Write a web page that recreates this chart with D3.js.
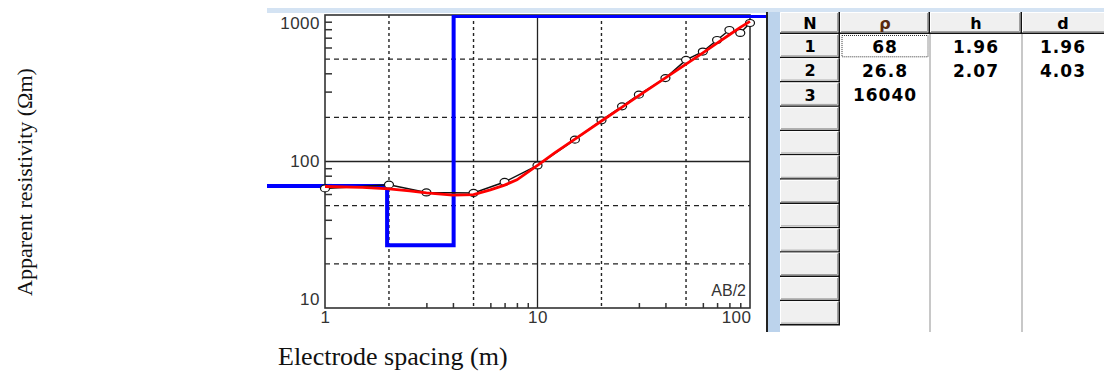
<!DOCTYPE html>
<html>
<head>
<meta charset="utf-8">
<script src="https://cdn.jsdelivr.net/npm/d3@7"></script>
<style>
  body { margin: 0; background: #fff; }
  svg { display: block; }
</style>
</head>
<body>
<script>
// sounding data (AB/2 in m, apparent resistivity in ohm-m)
const spacing = [1, 2, 3, 5, 7, 10, 15, 20, 25, 30, 40, 50, 60, 70, 80, 90, 100];
const observed = [65.5, 69.5, 61.5, 61, 72.5, 94, 141, 191, 238, 286, 371, 494, 563, 675, 790, 754, 882];

// calculated curve of the fitted model
const fitSpacing = [1, 1.5, 2, 2.5, 3, 4, 5, 6, 7, 8, 10, 12, 15, 20, 25, 30, 40, 50, 60, 70, 80, 90, 100];
const fitRho = [67.5, 66.5, 65, 63, 61, 59, 59.5, 64, 69, 75, 94, 114, 142, 189, 235, 282, 372, 462, 552, 642, 733, 823, 905];

// layered model
const layerN = ["1", "2", "3"];
const layerRho = [68, 26.8, 16040];
const layerH = [1.96, 2.07];
const layerD = [1.96, 4.03];
const rhoLabels = ["68", "26.8", "16040"];
const hLabels = ["1.96", "2.07"];
const dLabels = ["1.96", "4.03"];

// tick values
const yMajor = [10, 100, 1000];
const yMinor = [30, 40, 60, 70, 80, 90, 300, 400, 600, 700, 800, 900];
const yDashed = [20, 50, 200, 500];
const xMajor = [1, 10, 100];
const xMinor = [3, 4, 6, 7, 8, 9, 30, 40, 60, 70, 80, 90];
const xDotted = [2, 5, 20, 50];

const width = 1104;
const height = 381;

const svg = d3.select("body").append("svg")
  .attr("width", width)
  .attr("height", height);

const x = d3.scaleLog().domain([1, 100]).range([325, 750]);
const y = d3.scaleLog().domain([10, 1000]).range([308, 15]);

const panelLeft = 267;
const panelRight = 766;
const tickFont = "Liberation Sans, Arial, sans-serif";

// light blue band at top of the window
svg.append("rect")
  .attr("x", panelLeft).attr("y", 8)
  .attr("width", width - panelLeft).attr("height", 5)
  .attr("fill", "#d4e3f3");

svg.append("clipPath").attr("id", "panel")
  .append("rect")
  .attr("x", panelLeft).attr("y", y(1000))
  .attr("width", panelRight - panelLeft).attr("height", y(10) - y(1000) + 24);

// grid
const grid = svg.append("g");
grid.selectAll(".vd")
  .data(xDotted)
  .join("line")
  .attr("x1", (d) => x(d)).attr("x2", (d) => x(d))
  .attr("y1", y(1000)).attr("y2", y(10))
  .attr("stroke", "#222").attr("stroke-width", 1.4)
  .attr("stroke-dasharray", "3,3");
grid.selectAll(".hd")
  .data(yDashed)
  .join("line")
  .attr("x1", x(1)).attr("x2", x(100))
  .attr("y1", (d) => y(d)).attr("y2", (d) => y(d))
  .attr("stroke", "#222").attr("stroke-width", 1.3)
  .attr("stroke-dasharray", "5,4");
grid.append("line")
  .attr("x1", x(10)).attr("x2", x(10))
  .attr("y1", y(1000)).attr("y2", y(10))
  .attr("stroke", "#222").attr("stroke-width", 1.3);
grid.append("line")
  .attr("x1", x(1)).attr("x2", x(100))
  .attr("y1", y(100)).attr("y2", y(100))
  .attr("stroke", "#222").attr("stroke-width", 1.3);

// frame
svg.append("rect")
  .attr("x", x(1)).attr("y", y(1000))
  .attr("width", x(100) - x(1)).attr("height", y(10) - y(1000))
  .attr("fill", "none").attr("stroke", "#333").attr("stroke-width", 1.6);

// minor ticks
svg.append("g")
  .attr("transform", `translate(${x(1)},0)`)
  .call(d3.axisRight(y).tickValues(yMinor).tickSize(7).tickFormat(""))
  .call((g) => g.select(".domain").remove())
  .call((g) => g.selectAll("line").attr("stroke", "#333").attr("stroke-width", 1.5));
svg.append("g")
  .attr("transform", `translate(0,${y(10)})`)
  .call(d3.axisTop(x).tickValues(xMinor).tickSize(5).tickFormat(""))
  .call((g) => g.select(".domain").remove())
  .call((g) => g.selectAll("line").attr("stroke", "#333").attr("stroke-width", 1.5));

// tick labels
const yAxis = svg.append("g")
  .attr("transform", `translate(${x(1) - 2},0)`)
  .call(d3.axisLeft(y).tickValues(yMajor).tickSize(0).tickFormat(d3.format("d")));
yAxis.select(".domain").remove();
yAxis.selectAll("text")
  .attr("font-family", tickFont)
  .attr("font-size", 17)
  .attr("letter-spacing", 0.5)
  .attr("fill", "#333")
  .attr("dy", (d) => (d === 1000 ? "0.8em" : d === 10 ? "-0.2em" : "0.3em"));

const xAxis = svg.append("g")
  .attr("transform", `translate(0,${y(10)})`)
  .call(d3.axisBottom(x).tickValues(xMajor).tickSize(0).tickFormat(d3.format("d")));
xAxis.select(".domain").remove();
xAxis.selectAll("text")
  .attr("font-family", tickFont)
  .attr("font-size", 17)
  .attr("letter-spacing", 0.5)
  .attr("fill", "#333")
  .attr("dy", "0.68em")
  .attr("text-anchor", (d) => (d === 100 ? "end" : "middle"))
  .attr("dx", (d) => (d === 100 ? 1 : 0));

svg.append("text")
  .attr("x", x(100) - 4).attr("y", y(10) - 12)
  .attr("text-anchor", "end")
  .attr("font-family", tickFont)
  .attr("font-size", 16)
  .attr("fill", "#333")
  .text("AB/2");

// model step line
const xLo = x.invert(panelLeft);
const xHi = x.invert(panelRight + 4);
const bounds = [xLo, ...layerD, xHi];
const steps = [];
layerRho.forEach((r, i) => {
  steps.push([bounds[i], r]);
  steps.push([bounds[i + 1], r]);
});
svg.append("path")
  .datum(steps)
  .attr("clip-path", "url(#panel)")
  .attr("fill", "none")
  .attr("stroke", "#0000ff")
  .attr("stroke-width", 4)
  .attr("d", d3.line()
    .x((d) => x(d[0]))
    .y((d) => Math.max(y(d[1]), y(1000)) + (d[1] > 1000 ? 1 : 0)));

// observed curve
const obs = spacing.map((s, i) => [s, observed[i]]);
svg.append("path")
  .datum(obs)
  .attr("fill", "none")
  .attr("stroke", "#111")
  .attr("stroke-width", 1.5)
  .attr("d", d3.line().x((d) => x(d[0])).y((d) => y(d[1])));

svg.append("g")
  .selectAll("ellipse")
  .data(obs)
  .join("ellipse")
  .attr("cx", (d) => x(d[0]))
  .attr("cy", (d) => y(d[1]))
  .attr("rx", 4.5)
  .attr("ry", 3.5)
  .attr("fill", "#fff")
  .attr("stroke", "#111")
  .attr("stroke-width", 1.2);

// fitted curve
svg.append("path")
  .datum(fitSpacing.map((s, i) => [s, fitRho[i]]))
  .attr("fill", "none")
  .attr("stroke", "#ff0000")
  .attr("stroke-width", 2.8)
  .attr("d", d3.line().x((d) => x(d[0])).y((d) => y(d[1])));

// right border of the chart window and the table
const tableTop = 12;
const headH = 22;
const rowH = 24.3;
const nRows = 12;
const tableBottom = 332;
const cols = [780, 840, 930, 1022, 1104];

svg.append("rect")
  .attr("x", 768).attr("y", tableTop)
  .attr("width", 12).attr("height", tableBottom - tableTop)
  .attr("fill", "#bcd3ec");
svg.append("line")
  .attr("x1", 767).attr("x2", 767)
  .attr("y1", tableTop).attr("y2", tableBottom)
  .attr("stroke", "#222").attr("stroke-width", 2);

const table = svg.append("g");

function bevel(x0, y0, w, h) {
  table.append("rect")
    .attr("x", x0).attr("y", y0).attr("width", w).attr("height", h)
    .attr("fill", "#f0f0f0");
  table.append("path")
    .attr("d", `M${x0 + 0.5},${y0 + h - 1}V${y0 + 0.5}H${x0 + w - 1}`)
    .attr("fill", "none").attr("stroke", "#fff").attr("stroke-width", 1);
  table.append("path")
    .attr("d", `M${x0 + 1},${y0 + h - 2.5}H${x0 + w - 2.5}V${y0 + 1}`)
    .attr("fill", "none").attr("stroke", "#a0a0a0").attr("stroke-width", 1);
  table.append("path")
    .attr("d", `M${x0},${y0 + h - 0.75}H${x0 + w - 0.75}V${y0}`)
    .attr("fill", "none").attr("stroke", "#111").attr("stroke-width", 1.5);
}

// data area
table.append("rect")
  .attr("x", cols[1]).attr("y", tableTop + headH)
  .attr("width", width - cols[1]).attr("height", tableBottom - tableTop - headH)
  .attr("fill", "#fff");
[cols[2], cols[3]].forEach((cx) => {
  table.append("line")
    .attr("x1", cx).attr("x2", cx)
    .attr("y1", tableTop + headH).attr("y2", tableBottom)
    .attr("stroke", "#c8c8c8").attr("stroke-width", 2);
});

// headers
const headers = ["N", "ρ", "h", "d"];
headers.forEach((h, i) => {
  const w = cols[i + 1] - cols[i];
  bevel(cols[i], tableTop, i === 3 ? w + 4 : w, headH);
  table.append("text")
    .attr("x", cols[i] + w / 2)
    .attr("y", tableTop + headH / 2 + 6)
    .attr("text-anchor", "middle")
    .attr("font-family", "DejaVu Sans, sans-serif")
    .attr("font-weight", "bold")
    .attr("font-size", 16)
    .attr("fill", i === 1 ? "#5a2a10" : "#000")
    .text(h);
});

// row header cells
for (let r = 0; r < nRows; r += 1) {
  const y0 = tableTop + headH + r * rowH;
  bevel(cols[0], y0, cols[1] - cols[0], Math.min(rowH, tableBottom - y0));
  if (r < layerN.length) {
    table.append("text")
      .attr("x", (cols[0] + cols[1]) / 2)
      .attr("y", y0 + rowH / 2 + 6)
      .attr("text-anchor", "middle")
      .attr("font-family", "DejaVu Sans, sans-serif")
      .attr("font-weight", "bold")
      .attr("font-size", 16)
      .text(layerN[r]);
  }
}

function cellText(col, row, txt) {
  table.append("text")
    .attr("x", (cols[col] + cols[col + 1]) / 2)
    .attr("y", tableTop + headH + row * rowH + rowH / 2 + 6.5)
    .attr("text-anchor", "middle")
    .attr("font-family", "DejaVu Sans, sans-serif")
    .attr("font-weight", "bold")
    .attr("font-size", 17)
    .attr("letter-spacing", 1)
    .text(txt);
}
rhoLabels.forEach((t, i) => cellText(1, i, t));
hLabels.forEach((t, i) => cellText(2, i, t));
dLabels.forEach((t, i) => cellText(3, i, t));

// focus rectangle on the selected cell
table.append("rect")
  .attr("x", cols[1] + 2).attr("y", tableTop + headH + 1.5)
  .attr("width", cols[2] - cols[1] - 4).attr("height", rowH - 3)
  .attr("fill", "none").attr("stroke", "#333").attr("stroke-width", 1)
  .attr("stroke-dasharray", "1,1");

// axis titles
svg.append("text")
  .attr("transform", "translate(32,182) rotate(-90)")
  .attr("text-anchor", "middle")
  .attr("font-family", "Liberation Serif, Times New Roman, serif")
  .attr("font-size", 22)
  .attr("fill", "#111")
  .text("Apparent resistivity (Ωm)");

svg.append("text")
  .attr("x", 278).attr("y", 365)
  .attr("font-family", "Liberation Serif, Times New Roman, serif")
  .attr("font-size", 26)
  .attr("fill", "#111")
  .text("Electrode spacing (m)");
</script>
</body>
</html>
